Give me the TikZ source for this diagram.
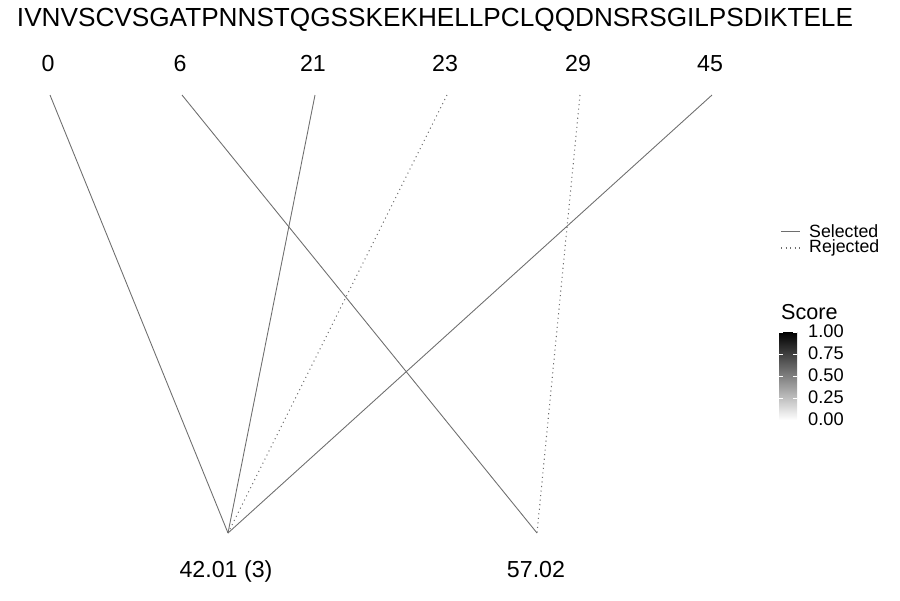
\documentclass[tikz,border=0pt]{standalone}
\usepackage{fontspec}
\setmainfont{Liberation Sans}
\usetikzlibrary{positioning}
\definecolor{linkcolor}{RGB}{110,110,110}

\begin{document}
\begin{tikzpicture}[x=0.02cm, y=-0.02cm,
    seqfont/.style={font=\fontsize{14.9}{17}\selectfont},
    posfont/.style={font=\fontsize{13.2}{15}\selectfont, anchor=base},
    keyfont/.style={font=\fontsize{10.1}{12}\selectfont},
    selected/.style={linkcolor, line width=0.5pt},
    rejected/.style={linkcolor, line width=0.6pt, dotted}]
    \useasboundingbox (0,0) rectangle (900,600);

    % Sequence
    \node[seqfont] (seq) at (435,20) {IVNVSCVSGATPNNSTQGSSKEKHELLPCLQQDNSRSGILPSDIKTELE};

    % Positions
    \foreach \p/\x in {0/50, 6/182, 21/315, 23/447, 29/580, 45/712} {
        \node[posfont] (n\p) at (\x-2,71) {\p};
        \coordinate (t\p) at (\x,95);
    }

    % Masses
    \coordinate (b1) at (228,533);
    \coordinate (b2) at (537,533);
    \node[posfont] (m1) at (226,577) {42.01 (3)};
    \node[posfont] (m2) at (536,577) {57.02};

    % Links
    \draw[selected] (t0) -- (b1);
    \draw[selected] (t21) -- (b1);
    \draw[rejected] (t23) -- (b1);
    \draw[selected] (t45) -- (b1);
    \draw[selected] (t6) -- (b2);
    \draw[rejected] (t29) -- (b2);

    % Legend
    \coordinate (ls1) at (781,231);
    \coordinate (le1) at (800,231);
    \coordinate (ls2) at (781,248);
    \coordinate (le2) at (800,248);
    \draw[selected] (ls1) -- (le1);
    \draw[rejected] (ls2) -- (le2);
    \node[keyfont, anchor=west] (sel) at (803,231) {Selected};
    \node[keyfont, anchor=west] (rej) at (803,248) {Rejected};

    % Score
    \node[font=\fontsize{12.3}{14}\selectfont, anchor=west] (score) at (775,312) {Score};
    \shade[top color=black, bottom color=white] (779,332) rectangle (797,420);
    \foreach \v/\y in {1.00/332, 0.75/354, 0.50/376, 0.25/398, 0.00/420} {
        \draw[white, line width=0.4pt] (779,\y) -- (783,\y) (793,\y) -- (797,\y);
        \node[font=\fontsize{10.4}{12}\selectfont, anchor=base west] (s\v) at (802,\y+5) {\v};
    }
\end{tikzpicture}
\end{document}
